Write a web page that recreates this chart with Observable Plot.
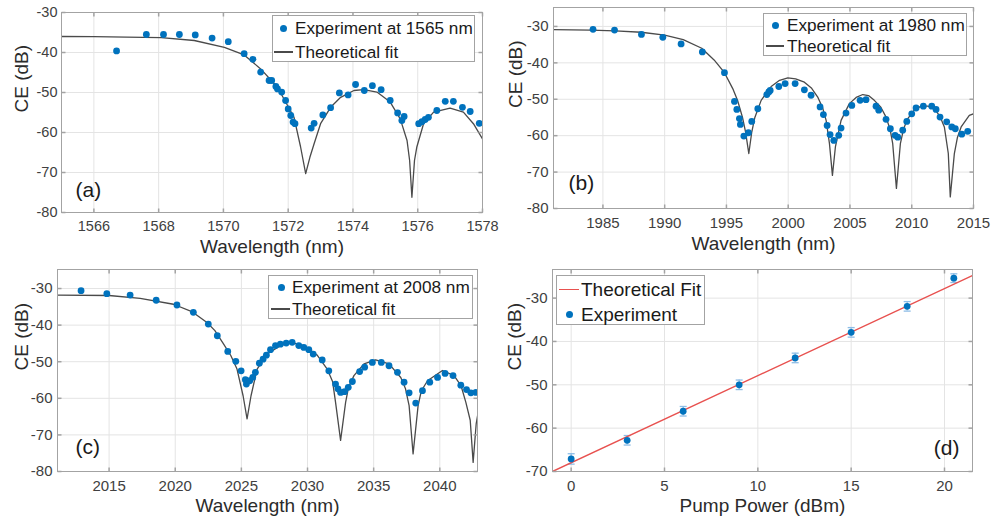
<!DOCTYPE html>
<html><head><meta charset="utf-8">
<script src="https://cdn.jsdelivr.net/npm/d3@7"></script>
<script src="https://cdn.jsdelivr.net/npm/@observablehq/plot@0.6"></script>
<style>
body{margin:0;background:#fff;}
#root{position:relative;width:992px;height:523px;overflow:hidden;font-family:"Liberation Sans",Arial,Helvetica,sans-serif;background:#fff;}
.panel{position:absolute;}
.panel svg{overflow:visible;display:block;}
.legend{position:absolute;background:#fff;border:1px solid #a3a3a3;box-sizing:border-box;}
.ltxt{position:absolute;white-space:nowrap;color:#1a1a1a;}
</style></head>
<body><div id="root"></div>
<script>
// ---------- DATA ----------
// (a) pump 1565 nm
const aExpX = [1566.7,1567.62,1568.15,1568.64,1569.13,1569.65,1570.15,1570.64,1570.91,1571.15,1571.41,1571.49,1571.62,1571.67,1571.8,1571.92,1572.0,1572.08,1572.15,1572.21,1572.71,1572.8,1573.07,1573.31,1573.58,1573.85,1574.08,1574.35,1574.6,1574.87,1575.15,1575.38,1575.51,1575.58,1576.03,1576.13,1576.23,1576.33,1576.59,1576.85,1577.1,1577.38,1577.62,1577.9];
const aExpY = [-39.6,-35.5,-35.5,-35.5,-35.6,-36.4,-37.3,-40.3,-41.7,-44.9,-47,-47,-48.5,-49.1,-49.9,-52,-54.1,-55.75,-57.4,-57.8,-58.9,-57.7,-55.6,-53.8,-50.1,-50.6,-48,-49.5,-48.3,-49.3,-52,-55.1,-57,-56,-57.8,-57.3,-56.75,-56.2,-54.5,-52.2,-52.2,-53.7,-54.75,-57.7];
const aFitX = [1565,1566,1567,1568.08,1569.1,1570.03,1570.64,1571.15,1571.67,1572.18,1572.38,1572.54,1572.67,1572.8,1573.0,1573.31,1573.62,1574.03,1574.33,1574.74,1575.15,1575.46,1575.67,1575.75,1575.82,1575.9,1575.97,1576.18,1576.49,1577.0,1577.41,1577.72,1578];
const aFitY = [-36.0,-36.05,-36.15,-36.3,-37.0,-38.7,-40.6,-44.1,-48.7,-56.2,-63.5,-70.3,-66.2,-62.8,-57.8,-53.7,-51.2,-49.5,-49.3,-49.9,-52.4,-56.6,-62,-67,-76.2,-67,-63.7,-57.8,-54.9,-53.9,-54.9,-57.8,-61.6];
// (b) pump 1980 nm
const bExpX = [1984.2,1985.94,1988.12,1989.85,1991.33,1993.05,1994.84,1995.65,1995.84,1996.05,1996.13,1996.41,1996.78,1997.05,1997.54,1998.27,1998.43,1998.54,1999.24,1999.75,2000.56,2001.31,2001.85,2002.58,2002.85,2003.15,2003.39,2003.69,2004.09,2004.28,2004.68,2005.15,2005.82,2006.3,2007.11,2007.33,2007.92,2008.27,2008.65,2008.87,2009.27,2009.6,2010.0,2010.35,2010.94,2011.62,2011.97,2012.29,2012.83,2013.24,2013.53,2014.05,2014.53];
const bExpY = [-30.8,-31.0,-32.2,-33.0,-34.8,-37.0,-42.7,-50.6,-52.8,-55.3,-56.9,-60.1,-59.2,-56.1,-52.6,-48.7,-48.0,-47.6,-46.5,-45.7,-45.7,-47.4,-48.9,-52.1,-54.2,-57.2,-59.7,-61.3,-59.9,-57.9,-53.8,-51.7,-50.3,-50.1,-51.9,-53.0,-55.5,-58.1,-59.9,-60.4,-58.5,-56.1,-54.0,-52.4,-51.9,-51.9,-52.8,-54.9,-56.2,-57.6,-58.1,-59.6,-58.8];
const bFitX = [1981,1984,1986,1988.1,1990,1991.5,1993,1994,1994.84,1995.5,1995.92,1996.3,1996.55,1996.81,1997.05,1997.3,1997.81,1998.62,1999.3,1999.97,2000.6,2001.31,2001.9,2002.39,2002.8,2003.07,2003.34,2003.58,2003.82,2004.28,2004.95,2005.5,2006.04,2006.5,2006.97,2007.5,2007.92,2008.25,2008.46,2008.76,2009.08,2009.35,2009.68,2010.2,2010.75,2011.3,2011.83,2012.3,2012.64,2012.96,2013.12,2013.45,2013.7,2014.0,2014.66,2015];
const bFitY = [-30.9,-31.0,-31.2,-31.6,-32.4,-33.6,-36.0,-39.2,-42.7,-47,-50.5,-55,-59,-64.9,-59,-55,-50.3,-46.5,-44.8,-44.1,-44.4,-45.3,-47,-49.4,-52.5,-55.8,-62.2,-70.9,-63.1,-55.8,-51.2,-49.5,-48.7,-49.0,-50.3,-52.2,-54.9,-58.3,-62.2,-74.5,-62.2,-58,-55.3,-53,-51.9,-51.9,-52.6,-54.8,-57.6,-64.9,-76.8,-64.9,-60.5,-57.6,-54.4,-54.0];
// (c) pump 2008 nm
const cExpX = [2012.88,2014.83,2016.59,2018.56,2020.13,2021.37,2022.5,2023.18,2023.97,2024.58,2024.98,2025.3,2025.38,2025.63,2025.86,2026.06,2026.36,2026.64,2026.89,2027.2,2027.58,2027.95,2028.39,2028.84,2029.34,2029.72,2030.1,2030.43,2031.11,2031.61,2032.12,2032.3,2032.5,2032.8,2033.08,2033.39,2033.94,2034.32,2034.9,2035.58,2036.16,2036.8,2037.3,2037.68,2038.18,2038.69,2039.24,2039.83,2040.4,2041.0,2041.59,2042.02,2042.35,2042.73];
const cExpY = [-30.6,-31.4,-31.8,-33.2,-34.5,-36.5,-39.7,-42.9,-47.2,-49.9,-52.5,-54.9,-56.1,-55.2,-54.3,-52.9,-50.4,-49.3,-48.2,-46.7,-45.6,-45.2,-44.9,-44.7,-45.6,-46.1,-46.7,-47.9,-49.5,-52.5,-56.1,-57.4,-58.4,-58.2,-57.0,-55.4,-52.7,-51.5,-50.2,-50.2,-51.1,-52.9,-55.6,-58.5,-61.3,-57.9,-55.6,-54.3,-53.2,-53.8,-56.4,-57.6,-58.5,-58.4];
const cFitX = [2011.1,2015,2017.35,2019.87,2021.3,2022.4,2023.0,2023.66,2024.2,2024.67,2025.13,2025.43,2025.73,2026.19,2026.95,2027.95,2028.71,2029.72,2030.73,2031.49,2031.9,2032.12,2032.5,2032.88,2033.1,2033.51,2034.27,2035.15,2036.16,2037.05,2037.4,2037.68,2037.98,2038.36,2038.6,2039.07,2040.2,2041.08,2041.6,2041.97,2042.3,2042.52,2042.75,2042.9];
const cFitY = [-31.8,-31.9,-32.7,-34.3,-36.4,-39.3,-41.5,-45.2,-48.3,-52.0,-59.3,-65.6,-59.3,-52,-47.9,-45.6,-44.7,-45.6,-48.2,-52,-55.5,-61.1,-71.5,-61.1,-57,-53.8,-50.6,-49.5,-50.6,-54.3,-57.3,-62,-75.2,-62,-58,-55.2,-52.4,-53.8,-56.5,-61.1,-66,-77.5,-67,-63.8];
// (d) CE vs pump power
const dX = [0,3,6,9,12,15,18,20.5];
const dY = [-67.1,-62.8,-56.1,-50.0,-43.8,-37.9,-31.9,-25.4];
const dErr = [1.2,1.1,1.1,1.1,1.1,1.1,1.1,1.0];
const dFitX = [-1,21.5];
const dFitY = [-70,-24.8];
// ticks
const aXTicks = [1566,1568,1570,1572,1574,1576,1578];
const bXTicks = [1985,1990,1995,2000,2005,2010,2015];
const cXTicks = [2015,2020,2025,2030,2035,2040];
const dXTicks = [0,5,10,15,20];
const ceTicks = [-80,-70,-60,-50,-40,-30];
const dYTicks = [-70,-60,-50,-40,-30];
// text
const legendA = ["Experiment at 1565 nm","Theoretical fit"];
const legendB = ["Experiment at 1980 nm","Theoretical fit"];
const legendC = ["Experiment at 2008 nm","Theoretical fit"];
const legendD = ["Theoretical Fit","Experiment"];
const tags = ["(a)","(b)","(c)","(d)"];
const xTitleW = "Wavelength (nm)", xTitleP = "Pump Power (dBm)", yTitle = "CE (dB)";

// ---------- DRAW ----------
const FONT = '"Liberation Sans", Arial, Helvetica, sans-serif';
const BLUE = "#0072BD", CURVE = "#4a4a4a", RED = "#e8514f", ERR = "#8ebde6";
const FRAME = "#a3a3a3", GRID = "#e4e4e4";
const rows = (xs, ys) => xs.map((x, i) => ({x, y: ys[i]}));
const sym = (x2, y2) => ({draw(c){ c.moveTo(0,0); c.lineTo(x2,y2); }});
const capSym = {draw(c){ c.moveTo(-3.5,0); c.lineTo(3.5,0); }};
const fmt = d => String(d);

function panel(o) {
  const tickMarks = [
    Plot.dot(o.xTicks, {x: d => d, frameAnchor: "bottom", symbol: sym(0,-4), stroke: FRAME, fill: "none"}),
    Plot.dot(o.xTicks, {x: d => d, frameAnchor: "top", symbol: sym(0,4), stroke: FRAME, fill: "none"}),
    Plot.dot(o.yTicks, {y: d => d, frameAnchor: "left", symbol: sym(4,0), stroke: FRAME, fill: "none"}),
    Plot.dot(o.yTicks, {y: d => d, frameAnchor: "right", symbol: sym(-4,0), stroke: FRAME, fill: "none"})
  ];
  return Plot.plot({
    width: o.w, height: o.h,
    marginTop: o.m[0], marginRight: o.m[1], marginBottom: o.m[2], marginLeft: o.m[3],
    style: {fontFamily: FONT, background: "transparent", overflow: "visible"},
    x: {domain: o.xDomain}, y: {domain: o.yDomain},
    marks: [
      Plot.gridX(o.xTicks, {stroke: GRID, strokeOpacity: 1}),
      Plot.gridY(o.yTicks, {stroke: GRID, strokeOpacity: 1}),
      ...o.marks,
      Plot.frame({stroke: FRAME}),
      ...tickMarks,
      Plot.axisX({ticks: o.xTicks, tickSize: 0, tickPadding: o.xPad, tickFormat: fmt, fontSize: o.fs, color: "#404040", label: null}),
      Plot.axisY({ticks: o.yTicks, tickSize: 0, tickPadding: o.yPad, tickFormat: fmt, fontSize: o.fs, color: "#404040", label: null}),
      Plot.text([o.xTitle], {frameAnchor: "bottom", dy: o.xTitleDy, fontSize: 19, fill: "#2b2b2b", lineAnchor: "middle"}),
      Plot.text([o.yTitle], {frameAnchor: "left", dx: o.yTitleDx, rotate: -90, fontSize: 19, fill: "#2b2b2b", lineAnchor: "middle"}),
      Plot.text([o.tag], {frameAnchor: o.tagAnchor, dx: o.tagDx, dy: o.tagDy, textAnchor: o.tagTA, lineAnchor: "middle", fontSize: 21, fill: "#1a1a1a"})
    ]
  });
}

const root = document.getElementById("root");
function place(el, left, top) {
  const d = document.createElement("div");
  d.className = "panel"; d.style.left = left + "px"; d.style.top = top + "px";
  d.appendChild(el); root.appendChild(d);
}
function legend(L) {
  const box = document.createElement("div");
  box.className = "legend";
  Object.assign(box.style, {left: L.left + "px", top: L.top + "px", width: L.w + "px", height: L.h + "px"});
  L.items.forEach(it => {
    const s = document.createElement("div");
    s.style.position = "absolute";
    if (it.kind === "dot") {
      Object.assign(s.style, {left: (it.cx - 3.5) + "px", top: (it.cy - 3.5) + "px", width: "7px", height: "7px", borderRadius: "50%", background: it.color});
    } else {
      Object.assign(s.style, {left: it.x1 + "px", top: (it.cy - 0.75) + "px", width: (it.x2 - it.x1) + "px", height: "1.5px", background: it.color});
    }
    box.appendChild(s);
    const t = document.createElement("div");
    t.className = "ltxt"; t.textContent = it.label;
    const lh = Math.round(L.fs * 1.2);
    Object.assign(t.style, {left: L.tx + "px", top: (it.cy - lh / 2) + "px", lineHeight: lh + "px", fontSize: L.fs + "px"});
    box.appendChild(t);
  });
  root.appendChild(box);
}

// (a)
place(panel({
  w: 496, h: 262, m: [12, 14, 50, 61], xDomain: [1565, 1578], yDomain: [-80, -30],
  xTicks: aXTicks, yTicks: ceTicks, fs: 14.5, xPad: 8, yPad: 4,
  xTitle: xTitleW, yTitle, xTitleDy: 34, yTitleDx: -39.5,
  tag: tags[0], tagAnchor: "bottom-left", tagDx: 14, tagDy: -22, tagTA: "start",
  marks: [
    Plot.line(rows(aFitX, aFitY), {x: "x", y: "y", stroke: CURVE, strokeWidth: 1.3, clip: true}),
    Plot.dot(rows(aExpX, aExpY), {x: "x", y: "y", r: 3.4, fill: BLUE, clip: true})
  ]
}), 0, 0);

// (b)
place(panel({
  w: 496, h: 262, m: [7, 19, 54, 57], xDomain: [1981, 2015], yDomain: [-80, -24.8],
  xTicks: bXTicks, yTicks: ceTicks, fs: 15, xPad: 9, yPad: 5,
  xTitle: xTitleW, yTitle, xTitleDy: 35.5, yTitleDx: -38,
  tag: tags[1], tagAnchor: "bottom-left", tagDx: 15, tagDy: -25, tagTA: "start",
  marks: [
    Plot.line(rows(bFitX, bFitY), {x: "x", y: "y", stroke: CURVE, strokeWidth: 1.3, clip: true}),
    Plot.dot(rows(bExpX, bExpY), {x: "x", y: "y", r: 3.4, fill: BLUE, clip: true})
  ]
}), 496, 0);

// (c)
place(panel({
  w: 496, h: 261, m: [7, 19, 52, 57], xDomain: [2011.1, 2042.85], yDomain: [-80, -24.8],
  xTicks: cXTicks, yTicks: ceTicks, fs: 15, xPad: 9, yPad: 5,
  xTitle: xTitleW, yTitle, xTitleDy: 34, yTitleDx: -35.5,
  tag: tags[2], tagAnchor: "bottom-left", tagDx: 18, tagDy: -24, tagTA: "start",
  marks: [
    Plot.line(rows(cFitX, cFitY), {x: "x", y: "y", stroke: CURVE, strokeWidth: 1.3, clip: true}),
    Plot.dot(rows(cExpX, cExpY), {x: "x", y: "y", r: 3.4, fill: BLUE, clip: true})
  ]
}), 0, 262);

// (d)
const dRows = dX.map((x, i) => ({x, y: dY[i], e: dErr[i]}));
place(panel({
  w: 496, h: 261, m: [7, 20, 52, 56], xDomain: [-1, 21.5], yDomain: [-70, -23.4],
  xTicks: dXTicks, yTicks: dYTicks, fs: 15, xPad: 9, yPad: 5,
  xTitle: xTitleP, yTitle, xTitleDy: 34, yTitleDx: -37.5,
  tag: tags[3], tagAnchor: "bottom-right", tagDx: -13, tagDy: -23, tagTA: "end",
  marks: [
    Plot.ruleX(dRows, {x: "x", y1: d => d.y - d.e, y2: d => d.y + d.e, stroke: ERR, strokeWidth: 1.3}),
    Plot.dot(dRows, {x: "x", y: d => d.y + d.e, symbol: capSym, stroke: ERR, fill: "none", strokeWidth: 1.3}),
    Plot.dot(dRows, {x: "x", y: d => d.y - d.e, symbol: capSym, stroke: ERR, fill: "none", strokeWidth: 1.3}),
    Plot.line(rows(dFitX, dFitY), {x: "x", y: "y", stroke: RED, strokeWidth: 1.4, clip: true}),
    Plot.dot(dRows, {x: "x", y: "y", r: 3.4, fill: BLUE})
  ]
}), 496, 262);

// legends
legend({left: 272, top: 15, w: 203, h: 47, fs: 17.2, tx: 22, items: [
  {kind: "dot", cx: 10, cy: 12, color: BLUE, label: legendA[0]},
  {kind: "line", x1: 1, x2: 20, cy: 36, color: CURVE, label: legendA[1]}
]});
legend({left: 763, top: 13, w: 204, h: 43, fs: 17.2, tx: 23, items: [
  {kind: "dot", cx: 11, cy: 11, color: BLUE, label: legendB[0]},
  {kind: "line", x1: 2, x2: 20, cy: 32, color: CURVE, label: legendB[1]}
]});
legend({left: 268, top: 275, w: 205, h: 44, fs: 17.2, tx: 23, items: [
  {kind: "dot", cx: 12.5, cy: 11, color: BLUE, label: legendC[0]},
  {kind: "line", x1: 2, x2: 21, cy: 33, color: CURVE, label: legendC[1]}
]});
legend({left: 556, top: 275, w: 149, h: 50, fs: 19, tx: 24, items: [
  {kind: "line", x1: 2, x2: 22, cy: 13.5, color: RED, label: legendD[0]},
  {kind: "dot", cx: 12.5, cy: 38, color: BLUE, label: legendD[1]}
]});
</script>
</body></html>
